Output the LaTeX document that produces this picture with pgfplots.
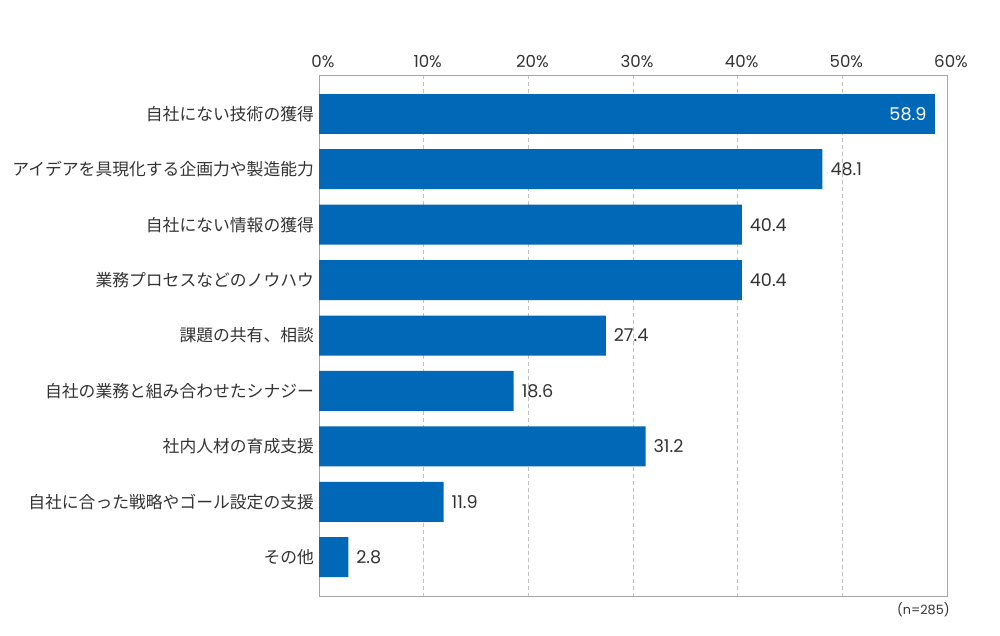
\documentclass[border=0pt]{standalone}
\usepackage{pgfplots}
\pgfplotsset{compat=1.18}
\usepackage{fontspec}
\setmainfont{Poppins}
\newfontfamily\jp{Noto Sans CJK JP}
\definecolor{barblue}{HTML}{0068B7}
\definecolor{txt}{HTML}{333333}
\begin{document}
\begin{tikzpicture}[x=1pt,y=1pt]
\useasboundingbox (0,0) rectangle (500,318);
\begin{axis}[
  at={(159.5pt,20pt)}, anchor=south west,
  scale only axis, width=314pt, height=260.5pt,
  xbar, bar width=20pt, bar shift=0pt,
  xmin=0, xmax=60, ymin=-0.7, ymax=8.7,
  y dir=reverse,
  xtick={0,10,...,60},
  xticklabel={\pgfmathprintnumber{\tick}\%},
  xticklabel pos=top,
  /pgf/number format/assume math mode=true,
  xticklabel style={font=\fontsize{8.3}{9}\selectfont, text=txt, yshift=0pt, xshift=2pt},
  ytick={0,...,8},
  yticklabels={自社にない技術の獲得,アイデアを具現化する企画力や製造能力,自社にない情報の獲得,業務プロセスなどのノウハウ,課題の共有、相談,自社の業務と組み合わせたシナジー,社内人材の育成支援,自社に合った戦略やゴール設定の支援,その他},
  yticklabel style={font=\jp\fontsize{8.4}{9}\selectfont, text=txt, xshift=1pt},
  major tick length=0pt,
  xmajorgrids, grid style={dash pattern=on 2pt off 1.5pt, gray!50, line width=0.35pt},
  axis line style={gray!70, line width=0.5pt},
  clip=false,
]
\addplot[fill=barblue, draw=none,
  nodes near coords, point meta=explicit symbolic,
  every node near coord/.style={anchor=east, text=white, font=\fontsize{8.8}{9}\selectfont, xshift=-1pt}]
  coordinates {(58.9,0) [58.9]};
\addplot[fill=barblue, draw=none,
  nodes near coords, point meta=explicit symbolic,
  every node near coord/.style={anchor=west, text=txt, font=\fontsize{8.8}{9}\selectfont, xshift=0.5pt}]
  coordinates {(48.1,1) [48.1] (40.4,2) [40.4] (40.4,3) [40.4] (27.4,4) [27.4] (18.6,5) [18.6] (31.2,6) [31.2] (11.9,7) [11.9] (2.8,8) [2.8]};
\node[anchor=north east, font=\fontsize{6.4}{7}\selectfont, text=txt, inner sep=0pt] at (rel axis cs:1,0) [yshift=-3pt,xshift=1.5pt] {(n=285)};
\end{axis}
\end{tikzpicture}
\end{document}
